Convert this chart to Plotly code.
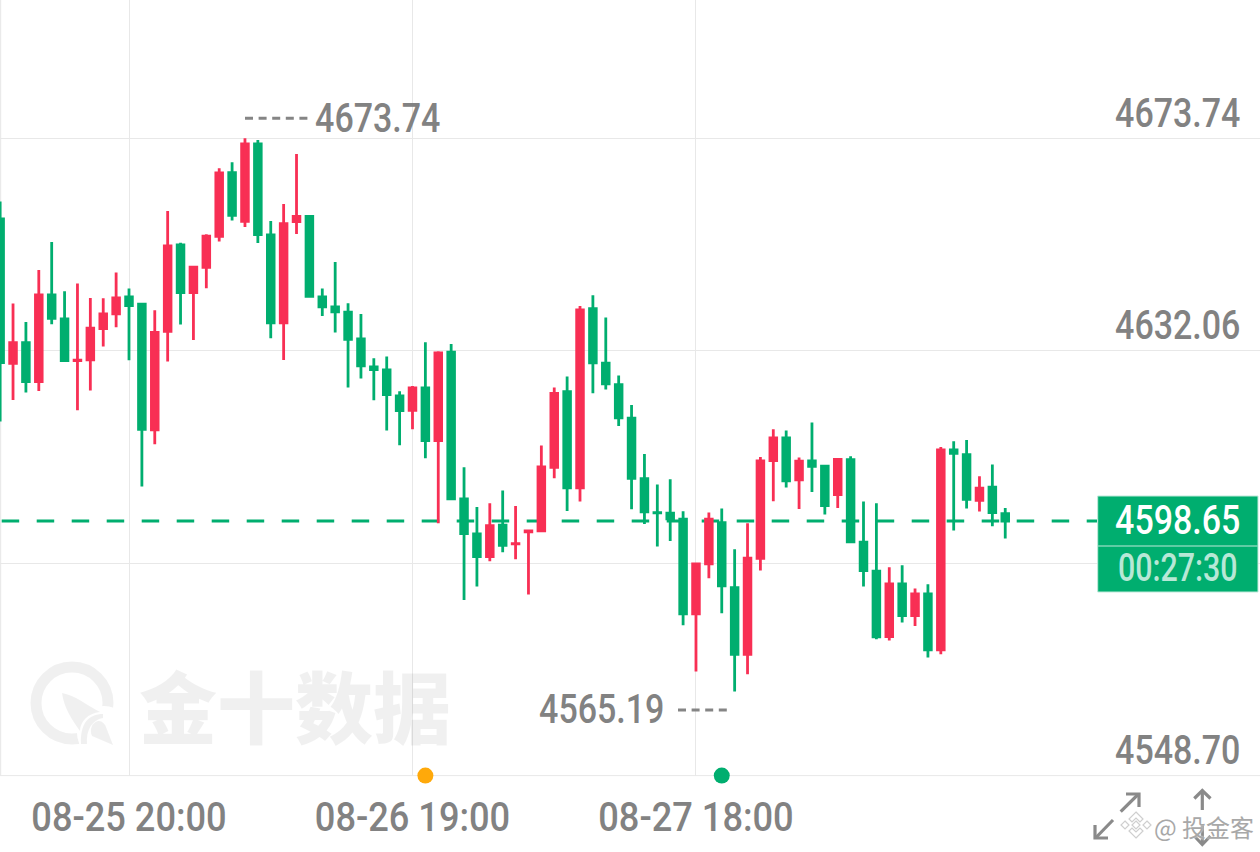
import plotly.graph_objects as go

open_ = [4657.93,4629.61,4633.66,4626.01,4643.02,4638.31,4630.15,4630.26,4636.41,4639.29,4642.62,4641.19,4616.53,4635.89,4652.83,4643.47,4648.45,4654.53,4667.02,4657.47,4672.64,4654.79,4637.52,4657.40,4658.45,4642.62,
4640.66,4639.62,4634.38,4628.89,4628.30,4623.20,4620.39,4624.77,4614.44,4631.77,4602.99,4596.13,4591.68,4597.83,4594.18,4596.51,4596.71,4609.21,4624.05,4605.15,4640.34,4629.61,4625.42,4618.82,4606.98,
4600.30,4600.18,4599.00,4580.43,4590.24,4598.35,4585.59,4572.51,4591.35,4610.51,4614.96,4606.72,4610.45,4609.40,4603.84,4610.71,4594.49,4588.80,4575.98,4586.31,4580.10,4584.35,4573.37,4612.60,4611.69,4602.73,4605.28,4600.11]
high = [4661.33,4641.32,4637.72,4647.92,4653.42,4643.74,4645.24,4642.43,4642.36,4647.40,4644.26,4641.19,4640.01,4659.50,4653.28,4648.45,4654.92,4667.87,4669.05,4673.74,4673.43,4657.54,4660.87,4670.68,4658.71,4644.26,
4649.49,4641.38,4639.29,4630.59,4630.92,4624.12,4625.16,4633.73,4631.96,4633.40,4609.21,4601.42,4602.14,4604.63,4601.62,4596.71,4613.46,4624.84,4626.99,4640.86,4642.95,4638.57,4627.19,4621.43,4611.82,
4605.81,4606.86,4600.57,4590.50,4600.31,4601.09,4593.11,4598.21,4611.23,4616.66,4616.40,4611.10,4617.97,4609.53,4610.77,4611.36,4602.47,4602.14,4589.58,4589.97,4585.40,4586.25,4613.19,4614.31,4614.57,4607.44,4609.73,4601.22]
low = [4618.19,4622.42,4623.85,4624.18,4637.26,4629.94,4620.39,4624.25,4632.88,4636.67,4630.20,4605.41,4613.72,4629.94,4637.20,4634.19,4644.32,4653.48,4657.60,4656.36,4653.22,4634.51,4630.26,4654.99,4642.69,4638.90,
4635.63,4624.84,4626.60,4622.35,4616.40,4613.52,4616.66,4610.97,4598.22,4602.93,4583.18,4585.79,4590.76,4592.53,4591.15,4584.22,4596.58,4607.05,4600.64,4602.47,4623.72,4624.44,4617.31,4600.96,4598.09,
4593.65,4594.75,4578.20,4569.11,4587.42,4580.56,4565.19,4568.59,4588.93,4602.53,4605.21,4601.03,4604.36,4599.92,4601.22,4594.49,4585.79,4575.45,4575.19,4578.73,4578.07,4571.86,4572.51,4596.78,4601.09,4600.51,4597.63,4595.21]
close = [4629.74,4633.66,4626.01,4643.02,4638.44,4630.13,4630.20,4636.48,4639.29,4642.43,4640.92,4616.66,4635.69,4652.63,4643.47,4648.45,4654.53,4666.95,4658.65,4672.64,4654.85,4637.52,4657.01,4658.45,4642.76,4640.66,
4639.68,4634.32,4629.09,4628.37,4623.46,4620.32,4624.77,4614.44,4631.64,4602.99,4596.19,4591.68,4597.76,4593.90,4594.23,4596.71,4609.27,4623.72,4605.15,4640.07,4629.68,4625.56,4618.88,4607.05,4600.44,
4600.25,4599.07,4580.43,4590.24,4599.00,4585.92,4572.51,4591.35,4610.45,4614.96,4606.52,4610.38,4609.40,4601.68,4610.77,4594.55,4588.93,4575.91,4586.31,4580.10,4584.35,4573.37,4612.60,4611.95,4602.93,4605.09,4600.31,4598.65]

grid_values = [4673.74, 4632.06, 4590.38, 4548.70]
price_labels = ["4673.74", "4632.06", "4548.70"]
price_label_values = [4673.74, 4632.06, 4548.70]
time_positions = [10, 32, 54]
time_labels = ["08-25 20:00", "08-26 19:00", "08-27 18:00"]
event_positions = [33, 56]
event_values = [4548.70, 4548.70]
event_colors = ["#FFA90A", "#00AE6F"]
last_price = 4598.65
countdown = "00:27:30"

GREEN = "#00AE6F"
RED = "#F82F54"
GRAY = "#828282"
FONT = "Roboto, sans-serif"
W, H = 1260, 852
PLOT_BOTTOM = 775.6

def px(x):
    return x / W

def py(y):
    return 1 - y / H

def pline(x0, y0, x1, y1, color=GRAY, width=3, dash=None, layer="above"):
    return dict(type="line", xref="paper", yref="paper", x0=px(x0), y0=py(y0), x1=px(x1), y1=py(y1),
                line=dict(color=color, width=width, dash=dash), layer=layer)

def ppath(points, fill=None, color=None, width=0, layer="above", close=True):
    d = ""
    for p in points:
        if isinstance(p[0], str):
            d += p[0] + " ".join(f"{px(p[i]):.5f},{py(p[i+1]):.5f}" for i in range(1, len(p), 2))
        else:
            d += f"L{px(p[0]):.5f},{py(p[1]):.5f}"
    d = "M" + d[1:]
    if close:
        d += "Z"
    return dict(type="path", xref="paper", yref="paper", path=d, fillcolor=fill or "rgba(0,0,0,0)",
                line=dict(color=color or "rgba(0,0,0,0)", width=width), layer=layer)

def pcircle(cx, cy, r, fill=None, color=None, width=0, layer="below"):
    return dict(type="circle", xref="paper", yref="paper", x0=px(cx - r), x1=px(cx + r),
                y0=py(cy + r), y1=py(cy - r), fillcolor=fill or "rgba(0,0,0,0)",
                line=dict(color=color or "rgba(0,0,0,0)", width=width), layer=layer)

fig = go.Figure()
fig.add_trace(go.Candlestick(
    x=list(range(len(open_))), open=open_, high=high, low=low, close=close,
    increasing=dict(line=dict(color=RED, width=2.8), fillcolor=RED),
    decreasing=dict(line=dict(color=GREEN, width=2.8), fillcolor=GREEN),
    whiskerwidth=0, showlegend=False, hoverinfo="skip"))
fig.add_trace(go.Scatter(
    x=event_positions, y=event_values, mode="markers", cliponaxis=False,
    marker=dict(size=16, color=event_colors, line=dict(width=0)),
    showlegend=False, hoverinfo="skip"))

WM = "rgba(0,0,0,0.058)"
shapes = [
    pline(0.7, 0, 0.7, PLOT_BOTTOM, "#e6e6e6", 1, layer="below"),
    pline(0, PLOT_BOTTOM, 1260, PLOT_BOTTOM, "#e8e8e8", 1, layer="below"),
    dict(type="line", xref="paper", yref="y", x0=px(1.7), x1=px(1097), y0=last_price, y1=last_price,
         line=dict(color=GREEN, width=3, dash="17.5px,17.5px"), layer="below"),
    # high / low leader lines
    pline(245, 118.3, 309, 118.3, "#858585", 3, "8px,5.6px"),
    pline(678, 710, 729, 710, "#858585", 3, "8px,5.6px"),
    # watermark logo
    pcircle(72, 703, 36, None, WM, 11),
    pcircle(104, 733, 27, "#ffffff"),
    ppath([("M", 62, 693), ("C", 75, 695, 88, 706, 100, 712), ("C", 88, 713, 80, 722, 80, 731),
           ("C", 72, 720, 64, 708, 62, 693)], WM, layer="below"),
    ppath([("M", 103, 714), ("C", 88, 714, 80, 724, 81, 744), ("L", 87, 744), ("C", 86, 730, 92, 720, 103, 718)], WM, layer="below"),
    ppath([("M", 98, 721), ("C", 92, 722, 89, 730, 92, 736), ("L", 113, 745), ("L", 106, 727), ("C", 104, 722, 101, 721, 98, 721)], WM, layer="below"),
    # price box
    dict(type="rect", xref="paper", yref="paper", x0=px(1097.7), x1=px(1258), y0=py(592), y1=py(496),
         fillcolor=GREEN, line=dict(color="#bfe9da", width=1), layer="above"),
    pline(1098, 546, 1258, 546, "#7fd6b6", 1.5),
    # corner icons
    pline(1120.7, 811.7, 1138, 794.5, "#8a8a8a", 3.2),
    ppath([(1126, 794), (1139, 794), (1139, 807)], None, "#8a8a8a", 3.2, close=False),
    pline(1113, 820, 1096, 837.5, "#8a8a8a", 3.2),
    ppath([(1095, 825), (1095, 838), (1108, 838)], None, "#8a8a8a", 3.2, close=False),
    pline(1202.3, 810, 1202.3, 791, "#8a8a8a", 3.2),
    ppath([(1194.3, 798.5), (1202.3, 790.5), (1210.5, 798.5)], None, "#8a8a8a", 3.2, close=False),
    pline(1202.3, 825, 1202.3, 844, "#8a8a8a", 3.2),
    ppath([(1194.3, 836), (1202.3, 844.5), (1210.5, 836)], None, "#8a8a8a", 3.2, close=False),
    # badge mark
    ppath([(1136, 810), (1151, 825), (1136, 840), (1121, 825)], "rgba(255,255,255,0.85)", None),
    ppath([(1136, 812), (1143, 819), (1140, 822), (1136, 818), (1132, 822), (1129, 819)], None, "#cfcfcf", 1.2),
    ppath([(1136, 838), (1143, 831), (1140, 828), (1136, 832), (1132, 828), (1129, 831)], None, "#cfcfcf", 1.2),
    ppath([(1136, 821), (1140, 825), (1136, 829), (1132, 825)], None, "#cfcfcf", 1.2),
    ppath([(1125, 821), (1129, 825), (1125, 829), (1121, 825)], None, "#cfcfcf", 1.2),
    ppath([(1147, 821), (1151, 825), (1147, 829), (1143, 825)], None, "#cfcfcf", 1.2),
]

def note(text, x, y, size=40, color=GRAY, anchor="center", family=FONT, weight=500, shadow=None):
    f = dict(family=family, size=size, color=color, weight=weight)
    if shadow:
        f["shadow"] = shadow
    return dict(text=text, xref="paper", yref="paper", x=px(x), y=py(y), xanchor=anchor, yanchor="middle",
                showarrow=False, font=f)

annotations = [
    note(f"{max(high):.2f}", 378, 118.5),
    note(f"{min(low):.2f}", 602, 709.5),
    note(f"{last_price:.2f}", 1178, 520, color="#ffffff"),
    note(countdown, 1178, 568, size=38, color="rgba(255,255,255,0.72)"),
    note("金十数据", 295, 704, size=78, color=WM, family="Noto Sans CJK SC", weight=900),
    note("@ 投金客", 1152, 826, size=24, color="#a8a8a8", anchor="left", family="Noto Sans CJK SC", weight=400,
         shadow="0 0 2px #ffffff"),
]
# price labels sit just above their grid lines, so they follow the y scale of the axis
for label, value in zip(price_labels, price_label_values):
    annotations.append(dict(text=label, xref="paper", yref="y", x=px(1178), y=value, yshift=25,
                            xanchor="center", yanchor="middle", showarrow=False,
                            font=dict(family=FONT, size=40, color=GRAY, weight=500)))

fig.update_layout(
    width=W, height=H, autosize=False,
    margin=dict(l=0, r=0, t=0, b=0, pad=0),
    paper_bgcolor="#ffffff", plot_bgcolor="#ffffff",
    boxgap=0.28, boxgroupgap=0.28,
    shapes=shapes, annotations=annotations, showlegend=False,
    xaxis=dict(range=[-0.011, 97.77], rangeslider=dict(visible=False), tickmode="array",
               tickvals=time_positions, ticktext=time_labels, showgrid=True, gridcolor="#e8e8e8", gridwidth=1,
               zeroline=False, ticks="", showline=False, automargin=False, ticklabelstandoff=14,
               tickfont=dict(family=FONT, size=40, color=GRAY, weight=500)),
    yaxis=dict(domain=[1 - PLOT_BOTTOM / H, 1], range=[4548.70, 4700.89], side="right", tickmode="array",
               tickvals=grid_values, showticklabels=False, showgrid=True, gridcolor="#e8e8e8", gridwidth=1,
               zeroline=False, ticks="", showline=False, automargin=False),
)

# The reference face is a condensed one; no condensed face is installed, so Roboto glyphs are narrowed
# about their own centres.
post = """
(function () {
  function narrow() {
    document.querySelectorAll('.main-svg text').forEach(function (t) {
      if ((t.style.fontFamily || '').indexOf('Roboto') < 0 || t.dataset.narrowed) return;
      var s = t.textContent, f = 0.85;
      if (s.indexOf('-') > 0) f = 0.905;
      if (s.indexOf(':') > 0 && s.indexOf('-') < 0) f = 0.80;
      var b = t.getBBox(), c = b.x + b.width / 2, old = t.getAttribute('transform') || '';
      t.setAttribute('transform', old + ' translate(' + c + ' 0) scale(' + f + ' 1) translate(' + (-c) + ' 0)');
      t.dataset.narrowed = '1';
    });
  }
  document.body.style.margin = '0';
  document.body.style.overflow = 'hidden';
  narrow();
  setTimeout(narrow, 50);
})();
"""
fig.write_html("out.html", config=dict(displayModeBar=False), post_script=post)
